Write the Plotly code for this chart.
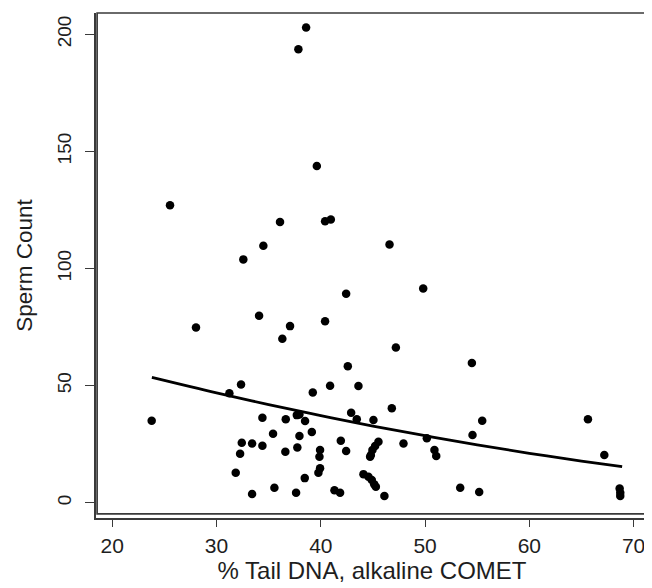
import plotly.graph_objects as go

tail_dna = [38.59, 37.85, 39.62, 25.54, 36.09, 40.41, 40.96, 34.49, 32.57, 42.43,
            34.08, 37.05, 40.41, 28.03, 46.59, 49.82, 36.31, 42.59, 32.35, 40.89,
            43.61, 39.23, 31.23, 23.78, 34.40, 36.64, 37.70, 37.95, 38.49, 42.91,
            43.45, 35.42, 37.95, 39.14, 32.42, 33.41, 34.40, 32.26, 36.60, 37.75,
            39.93, 39.87, 41.92, 42.43, 31.84, 39.93, 39.77, 38.46, 35.55, 33.41,
            37.63, 41.31, 41.85, 47.20, 54.49, 46.81, 45.05, 55.48, 65.62, 54.55,
            50.17, 47.93, 45.53, 45.21, 44.95, 44.80, 44.73, 50.90, 51.07, 67.19,
            44.09, 44.57, 44.89, 45.12, 45.28, 46.10, 53.37, 55.19, 68.66, 68.72,
            68.72]
sperm_count = [202.9, 193.6, 143.8, 127.0, 119.9, 120.2, 120.9, 109.7, 103.9, 89.2,
               79.8, 75.4, 77.5, 74.8, 110.3, 91.5, 70.0, 58.3, 50.5, 49.9,
               49.8, 47.1, 46.7, 35.0, 36.3, 35.6, 37.4, 37.7, 34.9, 38.4,
               35.6, 29.4, 28.5, 30.2, 25.6, 25.3, 24.3, 20.9, 21.8, 23.6,
               22.5, 19.6, 26.5, 22.1, 12.8, 14.7, 12.8, 10.5, 6.4, 3.7,
               4.3, 5.3, 4.3, 66.3, 59.7, 40.3, 35.3, 35.0, 35.6, 28.9,
               27.5, 25.3, 26.0, 24.2, 22.5, 20.4, 19.6, 22.5, 19.9, 20.4,
               12.2, 11.1, 9.7, 7.9, 6.8, 2.9, 6.4, 4.6, 6.1, 4.3,
               2.9]

fit_x = [23.8, 30, 35, 40, 45, 50, 55, 60, 65, 68.9]
fit_y = [53.5, 46.9, 41.9, 37.2, 32.7, 28.6, 24.7, 21.1, 17.8, 15.4]

x_ticks = [20, 30, 40, 50, 60, 70]
y_ticks = [0, 50, 100, 150, 200]

axis_color = "#3a3a3a"
text_color = "#1e1e1e"
font_family = "Liberation Sans, Arial, sans-serif"

fig = go.Figure()
fig.add_trace(go.Scatter(
    x=tail_dna, y=sperm_count, mode="markers",
    marker=dict(color="black", size=8.5, line=dict(width=0)),
    showlegend=False, hoverinfo="x+y"))
fig.add_trace(go.Scatter(
    x=fit_x, y=fit_y, mode="lines", line=dict(color="black", width=2.8, shape="spline"),
    showlegend=False))

# plot region border (box) slightly above the x-axis line
fig.add_shape(type="rect", xref="paper", yref="paper",
              x0=0.002, x1=1, y0=0.008, y1=1,
              line=dict(color=axis_color, width=1.7), fillcolor="rgba(0,0,0,0)", layer="above")

# page body has an 8px default margin, so the figure is slightly smaller than the window
fig.update_layout(
    width=644, height=580,
    margin=dict(l=88, r=4, t=5, b=70),
    paper_bgcolor="white", plot_bgcolor="white",
    font=dict(family=font_family, color=text_color),
    xaxis=dict(
        range=[18.44, 71.38], tickmode="array", tickvals=x_ticks,
        ticktext=[str(v) for v in x_ticks], automargin=False,
        showgrid=False, zeroline=False, showline=True, linecolor=axis_color, linewidth=1.7,
        ticks="outside", ticklen=7, tickwidth=1.4, tickcolor=axis_color,
        ticklabelstandoff=1,
        tickfont=dict(size=21, color=text_color),
        title=dict(text="% Tail DNA, alkaline COMET", font=dict(size=24, color=text_color), standoff=4),
    ),
    yaxis=dict(
        range=[-6.53, 209.1], tickmode="array", tickvals=y_ticks,
        ticktext=[str(v) for v in y_ticks], tickangle=-90, automargin=False,
        showgrid=False, zeroline=False, showline=True, linecolor=axis_color, linewidth=1.7,
        ticks="outside", ticklen=9, tickwidth=1.4, tickcolor=axis_color,
        ticklabelstandoff=7,
        tickfont=dict(size=19, color=text_color),
        title=dict(text="Sperm Count", font=dict(size=22.5, color=text_color), standoff=15),
    ),
)

fig.write_html("out.html")
